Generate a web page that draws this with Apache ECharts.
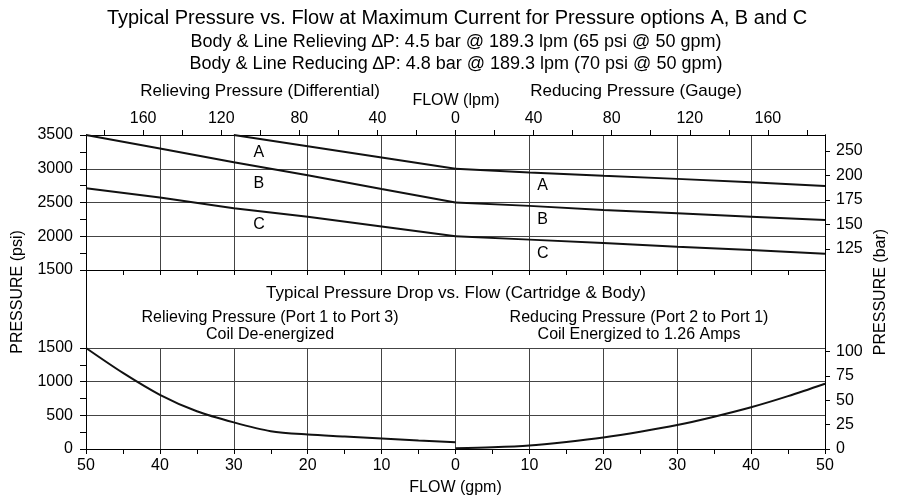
<!DOCTYPE html>
<html>
<head>
<meta charset="utf-8">
<script src="https://cdn.jsdelivr.net/npm/echarts@6/dist/echarts.min.js"></script>
<style>html,body{margin:0;padding:0;background:#fff}#c{width:899px;height:497px}</style>
</head>
<body>
<div id="c"></div>
<script>
// ---------- data ----------
const PSI_PER_BAR = 14.5038;
const LPM_PER_GPM = 3.78541;

// Upper chart: pressure (psi) vs flow (gpm); relieving side drawn to the left (negative)
const relievingFlowGpm = [-50, -40, -30, -20, -10, 0];
const reducingFlowGpm  = [0, 10, 20, 30, 40, 50];
const relievingA = [null, null, 3500, 3333, 3167, 3000];
const relievingB = [3500, 3300, 3095, 2905, 2700, 2500];
const relievingC = [2710, 2575, 2415, 2290, 2145, 2000];
const reducingA  = [3000, 2945, 2895, 2850, 2800, 2745];
const reducingB  = [2500, 2450, 2390, 2340, 2290, 2240];
const reducingC  = [2000, 1950, 1900, 1845, 1795, 1740];

// curve name labels (option letters)
const optionNames = ['A', 'B', 'C'];
const relievingLabelFlow = -26.6;
const relievingLabelPsi = [3233, 2774, 2167];
const reducingLabelFlow = 11.8;
const reducingLabelPsi = [2744, 2241, 1737];

// Lower chart: pressure drop (psi) vs flow (gpm)
const dropFlowGpm   = [0, 5, 10, 15, 20, 25, 30, 35, 40, 45, 50];
const relievingDrop = [100, 128, 157, 186, 215, 265, 395, 560, 805, 1130, 1500];
const reducingDrop  = [10, 25, 52, 105, 170, 255, 355, 480, 620, 785, 970];

// tick labels
const lpmLabelValues = [-160, -120, -80, -40, 0, 40, 80, 120, 160];
const lpmTickValues  = [-180, -160, -140, -120, -100, -80, -60, -40, -20, 0, 20, 40, 60, 80, 100, 120, 140, 160, 180];
const barTopTickValues = [125, 150, 175, 200, 225];
const barTopTickLabels = ['125', '150', '175', '200', '250'];

// texts
const titleLines = [
  'Typical Pressure vs. Flow at Maximum Current for Pressure options A, B and C',
  'Body & Line Relieving \u2206P: 4.5 bar @ 189.3 lpm (65 psi @ 50 gpm)',
  'Body & Line Reducing \u2206P: 4.8 bar @ 189.3 lpm (70 psi @ 50 gpm)'
];

// ---------- chart ----------
const FONT = '"Liberation Sans", Arial, Helvetica, sans-serif';
const INK = '#000';
const GRIDC = '#444';
const chart = echarts.init(document.getElementById('c'), null, {renderer: 'canvas'});

function pairs(xs, ys) { return xs.map((x, i) => [x, ys[i]]); }
function lineSeries(data, xi, yi, smooth) {
  return {
    type: 'line', xAxisIndex: xi, yAxisIndex: yi, data: data,
    showSymbol: false, symbol: 'none', smooth: smooth,
    connectNulls: false, animation: false, silent: true,
    lineStyle: {color: '#111', width: 2}
  };
}
const tickStyle = {color: INK, width: 1};
const labelStyle = {color: INK, fontSize: 16, fontFamily: FONT};
const plain = v => String(v);

function txt(text, x, y, size) {
  return {type: 'text', x: x, y: y, silent: true,
    style: {text: text, fill: INK, font: size + 'px ' + FONT, textAlign: 'center', textVerticalAlign: 'middle'}};
}

const option = {
  animation: false,
  backgroundColor: '#fff',
  textStyle: {fontFamily: FONT, color: INK},
  grid: [
    {left: 86, right: 74, top: 135, height: 135},
    {left: 86, right: 74, top: 348, height: 101},
    {left: 86, right: 74, top: 135, height: 314}
  ],
  xAxis: [
    {gridIndex: 0, type: 'value', min: -50, max: 50, interval: 10, position: 'bottom',
      axisLine: {show: true, onZero: false, lineStyle: tickStyle},
      axisTick: {show: true, length: 5, lineStyle: tickStyle},
      minorTick: {show: true, splitNumber: 2, length: 5, lineStyle: tickStyle},
      axisLabel: {show: false},
      splitLine: {show: true, lineStyle: {color: GRIDC, width: 1}}},
    {gridIndex: 0, type: 'value', min: -50 * LPM_PER_GPM, max: 50 * LPM_PER_GPM, position: 'top',
      axisLine: {show: true, onZero: false, lineStyle: tickStyle},
      axisTick: {show: true, length: 5, customValues: lpmTickValues, lineStyle: tickStyle},
      axisLabel: Object.assign({customValues: lpmLabelValues, margin: 8, formatter: v => String(Math.abs(v))}, labelStyle),
      splitLine: {show: false}},
    {gridIndex: 1, type: 'value', min: -50, max: 50, interval: 10, position: 'bottom',
      name: 'FLOW (gpm)', nameLocation: 'middle', nameGap: 31,
      nameTextStyle: {fontSize: 16, fontFamily: FONT, color: INK},
      axisLine: {show: true, onZero: false, lineStyle: tickStyle},
      axisTick: {show: true, length: 5, lineStyle: tickStyle},
      minorTick: {show: true, splitNumber: 2, length: 5, lineStyle: tickStyle},
      axisLabel: Object.assign({margin: 9, formatter: v => String(Math.abs(v))}, labelStyle),
      splitLine: {show: true, lineStyle: {color: GRIDC, width: 1}}},
    {gridIndex: 2, type: 'value', min: 0, max: 1, show: false}
  ],
  yAxis: [
    {gridIndex: 0, type: 'value', position: 'left', min: 1500, max: 3500, interval: 500,
      axisLine: {show: true, onZero: false, lineStyle: tickStyle},
      axisTick: {show: true, length: 6, lineStyle: tickStyle},
      minorTick: {show: true, splitNumber: 2, length: 6, lineStyle: tickStyle},
      axisLabel: Object.assign({margin: 13, formatter: plain}, labelStyle),
      splitLine: {show: true, lineStyle: {color: GRIDC, width: 1}}},
    {gridIndex: 0, type: 'value', position: 'right', min: 1500 / PSI_PER_BAR, max: 3500 / PSI_PER_BAR,
      axisLine: {show: true, onZero: false, lineStyle: tickStyle},
      axisTick: {show: true, length: 5, customValues: barTopTickValues, lineStyle: tickStyle},
      axisLabel: Object.assign({customValues: barTopTickValues, margin: 11,
        formatter: v => barTopTickLabels[barTopTickValues.indexOf(Math.round(v))]}, labelStyle),
      splitLine: {show: false}},
    {gridIndex: 1, type: 'value', position: 'left', min: 0, max: 1500, interval: 500,
      axisLine: {show: true, onZero: false, lineStyle: tickStyle},
      axisTick: {show: true, length: 6, lineStyle: tickStyle},
      minorTick: {show: true, splitNumber: 2, length: 6, lineStyle: tickStyle},
      axisLabel: Object.assign({margin: 13, formatter: plain}, labelStyle),
      splitLine: {show: true, lineStyle: {color: GRIDC, width: 1}}},
    {gridIndex: 1, type: 'value', position: 'right', min: 0, max: 1500 / PSI_PER_BAR, interval: 25,
      axisLine: {show: true, onZero: false, lineStyle: tickStyle},
      axisTick: {show: true, length: 5, lineStyle: tickStyle},
      axisLabel: Object.assign({margin: 11, showMaxLabel: false, formatter: plain}, labelStyle),
      splitLine: {show: false}},
    {gridIndex: 2, type: 'value', position: 'left', min: 0, max: 1,
      name: 'PRESSURE (psi)', nameLocation: 'middle', nameGap: 60, nameRotate: 90,
      nameTextStyle: {fontSize: 16, fontFamily: FONT, color: INK},
      axisLine: {show: true, onZero: false, lineStyle: tickStyle},
      axisTick: {show: false}, axisLabel: {show: false}, splitLine: {show: false}},
    {gridIndex: 2, type: 'value', position: 'right', min: 0, max: 1,
      name: 'PRESSURE (bar)', nameLocation: 'middle', nameGap: 48, nameRotate: 90,
      nameTextStyle: {fontSize: 16, fontFamily: FONT, color: INK},
      axisLine: {show: true, onZero: false, lineStyle: tickStyle},
      axisTick: {show: false}, axisLabel: {show: false}, splitLine: {show: false}}
  ],
  series: [
    lineSeries(pairs(relievingFlowGpm, relievingA), 0, 0, false),
    lineSeries(pairs(relievingFlowGpm, relievingB), 0, 0, false),
    lineSeries(pairs(relievingFlowGpm, relievingC), 0, 0, false),
    lineSeries(pairs(reducingFlowGpm, reducingA), 0, 0, false),
    lineSeries(pairs(reducingFlowGpm, reducingB), 0, 0, false),
    lineSeries(pairs(reducingFlowGpm, reducingC), 0, 0, false),
    lineSeries(pairs(dropFlowGpm.map(f => -f), relievingDrop), 2, 2, 0.3),
    lineSeries(pairs(dropFlowGpm, reducingDrop), 2, 2, 0.3),
    {type: 'scatter', xAxisIndex: 0, yAxisIndex: 0, symbolSize: 1, silent: true,
      itemStyle: {color: 'rgba(0,0,0,0)', opacity: 1},
      data: optionNames.map((n, i) => ({name: n, value: [relievingLabelFlow, relievingLabelPsi[i]]}))
        .concat(optionNames.map((n, i) => ({name: n, value: [reducingLabelFlow, reducingLabelPsi[i]]}))),
      label: {show: true, position: 'inside', formatter: p => p.name, fontSize: 16, fontFamily: FONT, color: '#000', opacity: 1}}
  ],
  graphic: [
    txt(titleLines[0], 457, 18, 20),
    txt(titleLines[1], 456, 42, 18),
    txt(titleLines[2], 456, 64, 18),
    txt('Relieving Pressure (Differential)', 260, 91, 17),
    txt('FLOW (lpm)', 456, 101, 16),
    txt('Reducing Pressure (Gauge)', 636, 91, 17),
    txt('Typical Pressure Drop vs. Flow (Cartridge & Body)', 456, 293, 17),
    txt('Relieving Pressure (Port 1 to Port 3)', 270, 318, 16),
    txt('Coil De-energized', 270, 335, 16),
    txt('Reducing Pressure (Port 2 to Port 1)', 639, 318, 16),
    txt('Coil Energized to 1.26 Amps', 639, 335, 16)
  ]
};
chart.setOption(option);
</script>
</body>
</html>
